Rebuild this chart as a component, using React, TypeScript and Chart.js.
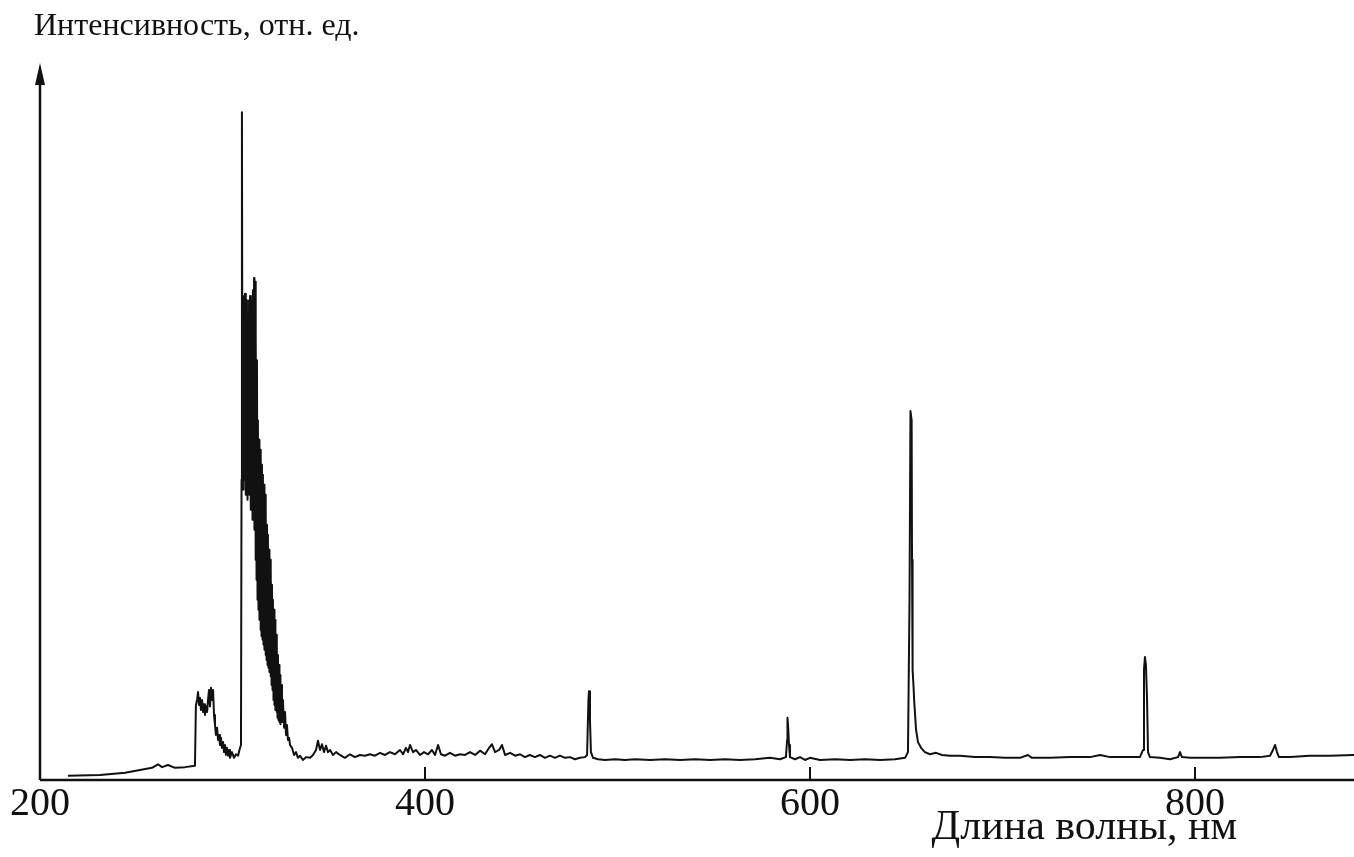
import React, { useEffect, useRef } from "react";
import { Chart, registerables } from "chart.js";

Chart.register(...registerables);

// Wavelength, nm
const wavelengthNm: number[] = [
  214.5, 231.2, 244.2, 251.9, 258.2, 261.3, 263.4, 266.5, 270.1, 275.3, 280.5,
  281.0, 281.6, 282.1, 282.6, 283.1, 283.6, 284.2, 284.7, 285.2, 285.7, 286.2,
  286.8, 287.3, 287.8, 288.3, 288.8, 289.4, 289.9, 290.4, 290.9, 291.4, 292.0,
  292.5, 293.0, 293.5, 294.0, 294.5, 295.1, 295.6, 296.1, 296.6, 297.1, 297.7,
  298.2, 298.7, 299.7, 300.8, 301.8, 302.9, 303.6,
  304.4, 304.7, 304.9, 305.2, 305.5, 305.7, 306.0, 306.2, 306.5, 306.8, 307.0,
  307.3, 307.5, 307.8, 308.1, 308.3, 308.6, 308.8, 309.1, 309.4, 309.6, 309.9,
  310.1, 310.4, 310.6, 310.9, 311.2, 311.4, 311.7, 311.9, 312.2, 312.5, 312.7,
  313.0, 313.2, 313.5, 313.8, 314.0, 314.3, 314.5, 314.8, 315.1, 315.3, 315.6,
  315.8, 316.1, 316.4, 316.6, 316.9, 317.1, 317.4, 317.7, 317.9, 318.2, 318.4,
  318.7, 319.0, 319.2, 319.5, 319.7, 320.0, 320.3, 320.5, 320.8, 321.0, 321.3,
  321.6, 321.8, 322.1, 322.3, 322.6, 322.9, 323.1, 323.4, 323.6, 323.9, 324.2,
  324.4, 324.7, 324.9, 325.2, 325.7, 326.2, 326.8, 327.3, 327.8, 328.3, 328.8,
  329.4, 329.9,
  330.9, 332.0, 333.0, 334.0, 335.1, 336.6, 338.2, 340.3, 341.8, 343.4, 344.4,
  345.5, 346.5, 347.5, 348.6, 349.6, 350.7, 352.2, 353.8, 355.8, 358.4, 361.0,
  363.6, 366.2, 368.8, 371.4, 374.0, 376.6, 379.2, 381.8, 384.4, 387.0, 388.6,
  390.1, 391.2, 392.2, 393.8, 395.3, 397.4, 399.5, 401.6, 403.6, 405.2, 406.8,
  408.3, 410.4, 413.0, 415.6, 418.2, 420.8, 423.4, 426.0, 428.6, 431.2, 433.3,
  434.8, 436.4, 438.5, 440.0, 441.6, 444.2, 446.8, 449.4, 451.9, 454.5, 457.1,
  459.7, 462.3, 464.9, 467.5, 470.1, 472.7, 475.3, 477.9, 480.5, 483.1, 484.2,
  484.9, 485.2, 485.7, 486.2, 487.3, 489.9, 493.5, 498.7, 503.9, 509.1, 516.9,
  524.7, 532.5, 540.3, 548.1, 555.8, 563.6, 571.4, 579.2, 584.4, 587.5, 588.1,
  588.3, 588.6, 589.1, 589.6, 592.2, 594.8, 597.4, 600.0, 605.2, 613.0, 620.8,
  628.6, 636.4, 644.2, 649.4, 650.9, 651.7, 652.2, 652.8, 653.0, 653.3, 653.8,
  654.1, 655.1, 656.1, 657.7, 659.7, 662.3, 665.5, 668.6, 672.7, 677.9, 685.7,
  693.5, 701.3, 709.1, 713.2, 715.3, 724.7, 735.1, 745.5, 750.7, 755.9, 763.7,
  771.4, 773.0, 773.5, 774.0, 774.5, 775.1, 775.6, 776.6, 781.8, 787.0, 791.2,
  792.2, 793.2, 797.4, 802.6, 813.0, 823.4, 833.8, 839.0, 840.5, 841.6, 842.6,
  843.6, 849.4, 859.7, 870.1, 882.6,
];

// Intensity, relative units
const intensity: number[] = [
  0.6, 0.7, 1.0, 1.4, 1.7, 2.2, 1.8, 2.1, 1.7, 1.8, 2.0,
  10.5, 11.2, 12.3, 10.5, 11.5, 9.8, 11.2, 9.5, 10.6, 9.1, 10.3,
  9.5, 11.2, 12.6, 10.3, 12.9, 11.2, 12.6, 9.1, 7.7, 6.3, 7.3,
  5.6, 6.3, 4.9, 5.9, 4.5, 5.3, 3.9, 4.9, 3.5, 4.5, 3.4,
  4.2, 3.1, 3.9, 3.1, 3.6, 3.4, 4.2,
  4.9, 42.0, 93.4, 43.4, 67.1, 40.6, 67.7, 42.0, 68.0, 39.9, 62.9,
  41.3, 67.1, 39.2, 63.6, 40.6, 67.1, 39.9, 67.7, 37.8, 64.3, 38.5,
  67.1, 36.4, 68.5, 36.4, 70.2, 35.0, 69.7, 30.8, 62.9, 28.0, 58.7,
  25.2, 50.3, 23.8, 47.6, 22.4, 46.2, 21.0, 45.5, 20.1, 44.1, 19.6,
  42.7, 18.9, 41.3, 18.2, 39.9, 17.5, 37.8, 16.8, 35.7, 16.1, 34.3,
  15.7, 32.2, 15.1, 30.8, 14.5, 29.4, 13.3, 27.3, 12.6, 25.2, 11.2,
  23.8, 10.5, 22.4, 9.8, 20.3, 9.5, 18.9, 8.7, 17.5, 8.4, 16.1,
  8.1, 14.7, 7.8, 13.3, 8.1, 11.2, 7.3, 9.5, 6.3, 7.7, 5.6,
  5.9, 4.9,
  4.5, 3.5, 3.9, 3.1, 3.4, 2.8, 3.2, 3.1, 3.5, 4.2, 5.5,
  4.2, 5.0, 3.9, 4.8, 3.9, 4.2, 3.5, 3.9, 3.5, 3.1, 3.6,
  3.2, 3.5, 3.4, 3.6, 3.4, 3.8, 3.5, 3.9, 3.6, 4.2, 3.6,
  4.5, 3.9, 4.9, 3.9, 4.2, 3.5, 3.9, 3.6, 4.2, 3.5, 4.9,
  3.6, 3.4, 3.8, 3.4, 3.6, 3.5, 3.9, 3.5, 4.1, 3.6, 4.5,
  5.0, 3.9, 4.2, 4.9, 3.5, 3.8, 3.4, 3.6, 3.2, 3.5, 3.2,
  3.5, 3.1, 3.4, 3.1, 3.4, 3.1, 3.2, 2.9, 3.1, 3.2, 3.5,
  11.2, 12.4, 8.4, 3.9, 3.1, 2.9, 2.8, 2.9, 2.8, 2.9, 2.8,
  2.9, 2.8, 2.9, 2.8, 2.9, 2.8, 2.9, 3.1, 2.9, 3.2, 5.6,
  8.7, 7.7, 4.9, 3.2, 2.9, 3.2, 2.8, 3.1, 2.8, 2.9, 2.8,
  2.9, 2.8, 2.9, 3.1, 3.9, 25.2, 51.6, 50.3, 30.8, 15.4, 13.0,
  11.2, 7.0, 5.3, 4.5, 3.9, 3.6, 3.8, 3.5, 3.4, 3.4, 3.2,
  3.2, 3.1, 3.1, 3.5, 3.1, 3.1, 3.2, 3.2, 3.5, 3.2, 3.2,
  3.2, 4.2, 15.4, 17.2, 16.1, 11.2, 3.9, 3.2, 3.1, 2.9, 3.2,
  3.9, 3.2, 3.1, 3.1, 3.1, 3.2, 3.2, 3.4, 4.2, 4.9, 3.9,
  3.2, 3.2, 3.4, 3.4, 3.5,
];

const xMin = 200;
const xMax = 882.6;
const xTickLabels: number[] = [200, 400, 600, 800];
const xTickMarks: number[] = [400, 600, 800];
const yAxisTitle = "Интенсивность, отн. ед.";
const xAxisTitle = "Длина волны, нм";

export default function App() {
  const canvasRef = useRef<HTMLCanvasElement | null>(null);

  useEffect(() => {
    document.body.style.margin = "0";
    const canvas = canvasRef.current;
    if (!canvas) return;

    const points = wavelengthNm.map((w, i) => ({ x: w, y: intensity[i] }));

    const axesPlugin = {
      id: "sketchAxes",
      afterDraw(chart: any) {
        const { ctx, chartArea, scales } = chart;
        const xs = scales.x;
        const ys = scales.y;
        const y0 = ys.getPixelForValue(0);
        const xL = xs.getPixelForValue(xMin);
        ctx.save();
        ctx.strokeStyle = "#111";
        ctx.fillStyle = "#111";
        ctx.lineWidth = 2.5;
        ctx.lineCap = "butt";
        ctx.beginPath();
        ctx.moveTo(xL, y0);
        ctx.lineTo(chartArea.right, y0);
        ctx.moveTo(xL, y0);
        ctx.lineTo(xL, chartArea.top + 14);
        ctx.stroke();
        // arrow head
        ctx.beginPath();
        ctx.moveTo(xL, chartArea.top - 2);
        ctx.lineTo(xL - 5, chartArea.top + 20);
        ctx.lineTo(xL + 5, chartArea.top + 20);
        ctx.closePath();
        ctx.fill();
        // inward tick marks
        ctx.lineWidth = 2;
        for (const v of xTickMarks) {
          const px = xs.getPixelForValue(v);
          ctx.beginPath();
          ctx.moveTo(px, y0);
          ctx.lineTo(px, y0 - 13);
          ctx.stroke();
        }
        // tick labels
        ctx.font = '40px "Liberation Serif"';
        ctx.textAlign = "center";
        ctx.textBaseline = "alphabetic";
        for (const v of xTickLabels) {
          const px = xs.getPixelForValue(v);
          ctx.fillText(String(v), px, y0 + 35);
        }
        // axis titles
        ctx.font = '42px "Liberation Serif"';
        ctx.textAlign = "right";
        ctx.fillText(xAxisTitle, 1237, y0 + 59);
        ctx.font = '32px "Liberation Serif"';
        ctx.textAlign = "left";
        ctx.fillText(yAxisTitle, 34, 35);
        ctx.restore();
      },
    };

    const chart = new Chart(canvas, {
      type: "line",
      data: {
        datasets: [
          {
            data: points,
            borderColor: "#111",
            borderWidth: 2,
            borderJoinStyle: "round",
            pointRadius: 0,
            tension: 0,
            fill: false,
          },
        ],
      },
      options: {
        animation: false,
        responsive: false,
        devicePixelRatio: 1,
        events: [],
        layout: { padding: { left: 40, right: 0, top: 65, bottom: 77 } },
        plugins: {
          legend: { display: false },
          tooltip: { enabled: false },
          title: { display: false },
        },
        scales: {
          x: { type: "linear", min: xMin, max: xMax, display: false },
          y: { type: "linear", min: 0, max: 100, display: false },
        },
      },
      plugins: [axesPlugin],
    } as any);

    return () => chart.destroy();
  }, []);

  return (
    <div style={{ width: 1354, height: 857, background: "#fff" }}>
      <canvas ref={canvasRef} width={1354} height={857} style={{ width: 1354, height: 857, display: "block" }} />
    </div>
  );
}
